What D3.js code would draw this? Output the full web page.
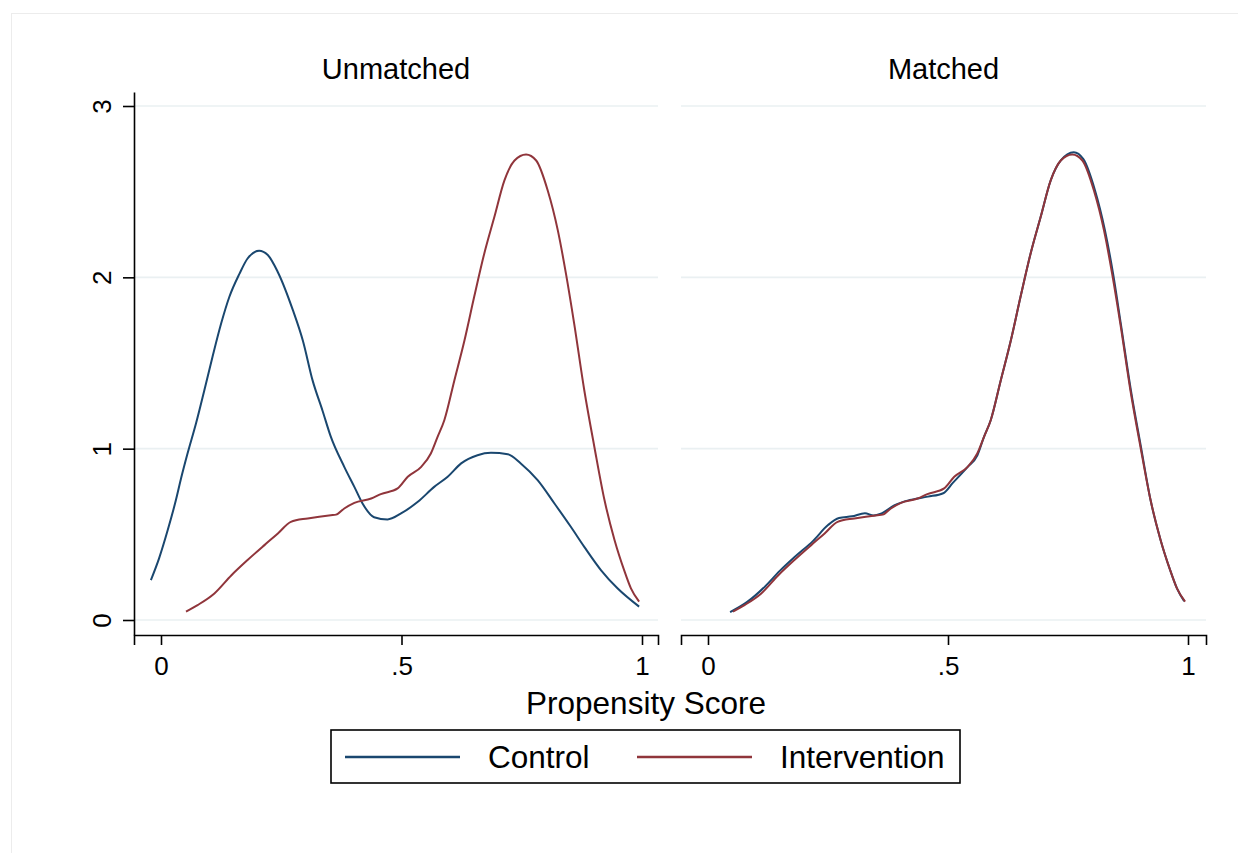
<!DOCTYPE html>
<html>
<head>
<meta charset="utf-8">
<script src="https://cdn.jsdelivr.net/npm/d3@7"></script>
<style>
  body { margin: 0; background: #fff; }
  text { font-family: "Liberation Sans", Arial, sans-serif; fill: #000; }
</style>
</head>
<body>
<div id="chart"></div>
<script>
// Panel titles and legend labels
const panelNames = ["Unmatched", "Matched"];
const seriesNames = ["Control", "Intervention"];
const xTicks = [0, 0.5, 1];
const xTickLabels = ["0", ".5", "1"];
const yTicks = [0, 1, 2, 3];

// Density curves: [propensity score, density]
const controlUnmatched = [
  [-0.021, 0.233], [-0.004, 0.36], [0.014, 0.525], [0.031, 0.70], [0.042, 0.83],
  [0.055, 0.97], [0.073, 1.15], [0.09, 1.34], [0.107, 1.535], [0.125, 1.73],
  [0.142, 1.885], [0.163, 2.02], [0.18, 2.11], [0.204, 2.155], [0.222, 2.13],
  [0.243, 2.03], [0.274, 1.81], [0.295, 1.63], [0.315, 1.40], [0.336, 1.22],
  [0.353, 1.07], [0.381, 0.894], [0.402, 0.777], [0.419, 0.68], [0.443, 0.60],
  [0.471, 0.587], [0.499, 0.622], [0.534, 0.69], [0.568, 0.777], [0.596, 0.836],
  [0.624, 0.914], [0.658, 0.962], [0.686, 0.976], [0.721, 0.968], [0.748, 0.914],
  [0.783, 0.816], [0.818, 0.68], [0.852, 0.544], [0.88, 0.427], [0.915, 0.29],
  [0.949, 0.185], [0.994, 0.078]
];

const intervention = [
  [0.052, 0.049], [0.076, 0.087], [0.111, 0.155], [0.146, 0.26], [0.18, 0.35],
  [0.215, 0.437], [0.243, 0.505], [0.27, 0.573], [0.305, 0.593], [0.353, 0.612],
  [0.364, 0.615], [0.381, 0.651], [0.402, 0.684], [0.437, 0.709], [0.457, 0.735],
  [0.492, 0.768], [0.513, 0.836], [0.541, 0.894], [0.561, 0.972], [0.575, 1.069],
  [0.589, 1.166], [0.61, 1.40], [0.631, 1.633], [0.651, 1.885], [0.672, 2.138],
  [0.693, 2.352], [0.714, 2.566], [0.735, 2.682], [0.759, 2.717], [0.78, 2.682],
  [0.804, 2.507], [0.825, 2.274], [0.842, 2.02], [0.859, 1.73], [0.88, 1.341],
  [0.901, 1.01], [0.922, 0.70], [0.943, 0.466], [0.963, 0.29], [0.977, 0.185],
  [0.994, 0.107]
];

const controlMatched = [
  [0.046, 0.046], [0.081, 0.104], [0.119, 0.196], [0.15, 0.288], [0.181, 0.369],
  [0.219, 0.462], [0.25, 0.554], [0.273, 0.595], [0.3, 0.605], [0.327, 0.623],
  [0.345, 0.61], [0.36, 0.62], [0.388, 0.669], [0.42, 0.70], [0.458, 0.72],
  [0.49, 0.74], [0.51, 0.80], [0.541, 0.894], [0.561, 0.96], [0.575, 1.069],
  [0.589, 1.166], [0.61, 1.40], [0.631, 1.633], [0.651, 1.885], [0.672, 2.138],
  [0.693, 2.352], [0.714, 2.566], [0.735, 2.682], [0.762, 2.73], [0.782, 2.69],
  [0.806, 2.51], [0.827, 2.274], [0.844, 2.02], [0.86, 1.73], [0.881, 1.341],
  [0.902, 1.01], [0.922, 0.70], [0.943, 0.466], [0.963, 0.29], [0.977, 0.185],
  [0.992, 0.11]
];

const panelSeries = [
  [controlUnmatched, intervention],
  [controlMatched, intervention]
];

window.onload = function () {
  const W = 1238, H = 853;
  const colors = ["#1a476f", "#90353b"];

  const svg = d3.select("#chart").append("svg")
    .attr("width", W).attr("height", H);

  // faint outer graph frame
  svg.append("rect")
    .attr("x", 11.5).attr("y", 13.5)
    .attr("width", 1300).attr("height", 900)
    .attr("fill", "none")
    .attr("stroke", "#ececec");

  // y scale (shared), extended past 0..3 to the plot edges
  const y = d3.scaleLinear().domain([0, 3]).range([620, 106]);
  y.domain([y.invert(635), y.invert(92)]).range([635, 92]);

  const panels = [
    { left: 134, right: 658, x0: 161, x1: 642 },
    { left: 681, right: 1206, x0: 708, x1: 1188 }
  ];

  panels.forEach((p, i) => {
    const x = d3.scaleLinear().domain([0, 1]).range([p.x0, p.x1]);
    x.domain([x.invert(p.left), x.invert(p.right)]).range([p.left, p.right]);

    const g = svg.append("g");

    // grid lines
    g.append("g")
      .selectAll("line")
      .data(yTicks)
      .join("line")
      .attr("x1", p.left).attr("x2", p.right)
      .attr("y1", (d) => y(d)).attr("y2", (d) => y(d))
      .attr("stroke", "#eaf0f2")
      .attr("stroke-width", 1.6);

    // x axis
    const xAxis = g.append("g")
      .attr("transform", "translate(0,635)")
      .call(d3.axisBottom(x).tickValues(xTicks).tickSize(10).tickPadding(12)
        .tickFormat((d, k) => xTickLabels[k]));
    xAxis.select(".domain").attr("stroke", "#000").attr("stroke-width", 1.6);
    xAxis.selectAll(".tick line").attr("stroke", "#000").attr("stroke-width", 1.6);
    xAxis.selectAll("text")
      .style("font-size", "26px")
      .style("font-family", "Liberation Sans, Arial, sans-serif")
      .attr("fill", "#000");

    // y axis only on the left panel
    if (i === 0) {
      const yAxis = g.append("g")
        .attr("transform", `translate(${p.left},0)`)
        .call(d3.axisLeft(y).tickValues(yTicks).tickSize(11).tickSizeOuter(0).tickPadding(0)
          .tickFormat(d3.format("d")));
      yAxis.select(".domain").attr("stroke", "#000").attr("stroke-width", 1.6);
      yAxis.selectAll(".tick line").attr("stroke", "#000").attr("stroke-width", 1.6);
      yAxis.selectAll("text")
        .attr("x", 0).attr("dy", null)
        .attr("transform", "translate(-32,0) rotate(-90)")
        .attr("text-anchor", "middle")
        .attr("dominant-baseline", "central")
        .style("font-size", "26px")
        .style("font-family", "Liberation Sans, Arial, sans-serif")
        .attr("fill", "#000");
    }

    // panel title
    g.append("text")
      .attr("x", (p.left + p.right) / 2)
      .attr("y", 79)
      .attr("text-anchor", "middle")
      .style("font-size", "29px")
      .text(panelNames[i]);

    // density curves
    const line = d3.line()
      .x((d) => x(d[0]))
      .y((d) => y(d[1]))
      .curve(d3.curveMonotoneX);

    panelSeries[i].forEach((series, s) => {
      g.append("path")
        .datum(series)
        .attr("fill", "none")
        .attr("stroke", colors[s])
        .attr("stroke-width", 2)
        .attr("d", line);
    });
  });

  // x axis title
  svg.append("text")
    .attr("x", 646)
    .attr("y", 714)
    .attr("text-anchor", "middle")
    .style("font-size", "31.5px")
    .text("Propensity Score");

  // legend
  const legend = svg.append("g");
  legend.append("rect")
    .attr("x", 331).attr("y", 730)
    .attr("width", 629).attr("height", 53)
    .attr("fill", "#fff")
    .attr("stroke", "#000")
    .attr("stroke-width", 1.6);

  const legendItems = [
    { x1: 345, x2: 460, tx: 488 },
    { x1: 637, x2: 752, tx: 780 }
  ];
  legendItems.forEach((it, s) => {
    legend.append("line")
      .attr("x1", it.x1).attr("x2", it.x2)
      .attr("y1", 757).attr("y2", 757)
      .attr("stroke", colors[s])
      .attr("stroke-width", 2.5);
    legend.append("text")
      .attr("x", it.tx)
      .attr("y", 768)
      .style("font-size", "31.5px")
      .text(seriesNames[s]);
  });
};
</script>
</body>
</html>
